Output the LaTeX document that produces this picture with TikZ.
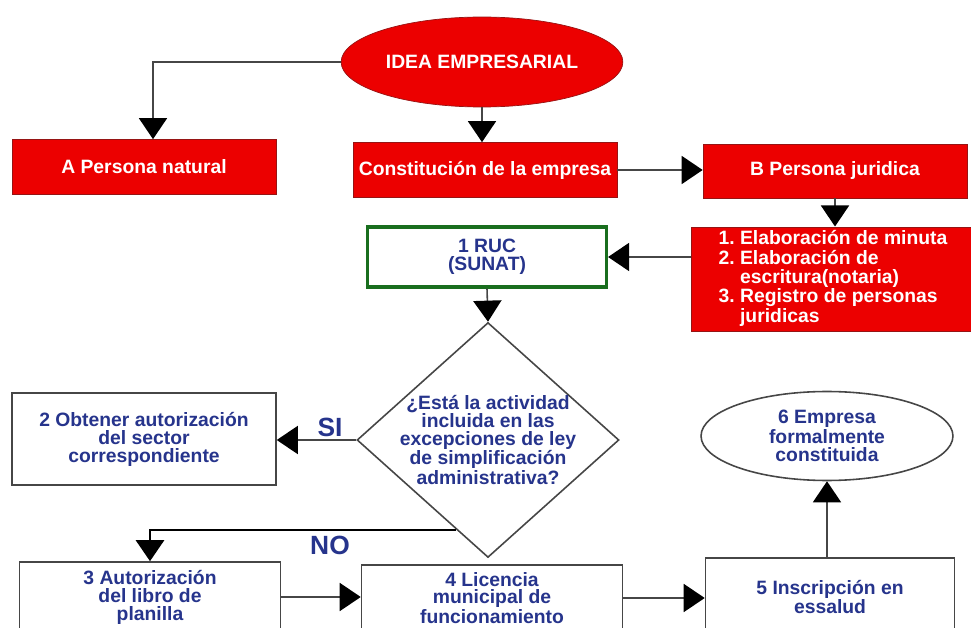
\documentclass[tikz,border=0pt]{standalone}
\usepackage{fontspec}
\setmainfont{Liberation Sans}
\usetikzlibrary{shapes.geometric,arrows.meta,calc}
\definecolor{rojo}{RGB}{236,0,0}
\definecolor{rojoborde}{RGB}{150,20,20}
\definecolor{azul}{RGB}{38,52,140}
\definecolor{verde}{RGB}{25,110,30}
\definecolor{linea}{RGB}{70,70,70}
\begin{document}
\begin{tikzpicture}[x=0.02cm, y=-0.02cm,
    font=\fontsize{11}{10.2}\selectfont\bfseries,
    rojobox/.style={draw=rojoborde, fill=rojo, text=white, align=center, inner sep=2pt},
    blancobox/.style={draw=linea, fill=white, text=azul, align=center, line width=0.9pt, inner sep=2pt},
    flecha/.style={draw=linea, line width=0.9pt, -{Triangle[width=16pt,length=12pt,color=black]}}]
    \useasboundingbox (0,0) rectangle (971,628);
    \clip (0,0) rectangle (971,628);
    % fila de arriba
    \node[rojobox, ellipse, minimum width=5.0cm, minimum height=1.8cm] (idea) at (482,62) {IDEA EMPRESARIAL};
    \node[rojobox, minimum width=5.28cm, minimum height=1.1cm] (natural) at (144,167) {A Persona natural};
    \node[rojobox, minimum width=5.28cm, minimum height=1.1cm] (constit) at (485,170) {Constitución de la empresa};
    \node[rojobox, minimum width=5.28cm, minimum height=1.08cm] (juridica) at (835,171) {B Persona juridica};
    \node[rojobox, minimum width=5.66cm, minimum height=2.04cm] (pasos) at (833,279) {%
      \begin{tabular}{@{}l@{\ }l@{}}
        1. & Elaboración de minuta\\
        2. & Elaboración de\\
           & escritura(notaria)\\
        3. & Registro de personas\\
           & juridicas
      \end{tabular}};
    \node[blancobox, draw=verde, line width=1.8pt, minimum width=4.78cm, minimum height=1.2cm] (ruc) at (487,257) {1 RUC\\(SUNAT)};
    % decision
    \node[draw=linea, line width=0.9pt, diamond, fill=white, minimum width=5.24cm, minimum height=4.7cm, inner sep=0pt] (q) at (488,440) {};
    \node[text=azul, align=center] (qtexto) at (q.center) {¿Está la actividad\\incluida en las\\excepciones de ley\\de simplificación\\administrativa?};
    \coordinate (qno) at ($(q.west)!0.76!(q.south)$);
    \node[blancobox, minimum width=5.28cm, minimum height=1.84cm] (obtener) at (144,439) {2 Obtener autorización\\del sector\\correspondiente};
    \node[text=azul, font=\fontsize{15}{15}\selectfont\bfseries] (si) at (330,427) {SI};
    \node[text=azul, font=\fontsize{15}{15}\selectfont\bfseries] (no) at (330,545) {NO};
    % fila de abajo
    \node[blancobox, minimum width=5.22cm, minimum height=1.4cm] (planilla) at (150,597) {3 Autorización\\del libro de\\planilla};
    \node[blancobox, minimum width=5.22cm, minimum height=1.32cm] (licencia) at (492,598) {4 Licencia\\municipal de\\funcionamiento};
    \node[blancobox, minimum width=4.98cm, minimum height=1.56cm] (essalud) at (830,597) {5 Inscripción en\\essalud};
    \node[blancobox, ellipse, minimum width=5.04cm, minimum height=1.78cm] (constituida) at (827,436) {6 Empresa\\formalmente\\constituida};
    % flechas
    \draw[flecha] (idea.west) -| ([xshift=0.18cm]natural.north);
    \draw[flecha] (idea.south) -- (idea.south |- constit.north);
    \draw[flecha] (constit.east) -- (constit.east -| juridica.west);
    \draw[flecha] (juridica.south) -- (juridica.south |- pasos.north);
    \draw[flecha] (pasos.west |- ruc.east) -- (ruc.east);
    \draw[flecha] (ruc.south) -- (q.north);
    \draw[flecha] (q.west) -- (q.west -| obtener.east);
    \draw[flecha, draw=black, line width=1.5pt] (qno) -| (planilla.north);
    \draw[flecha] (planilla.east) -- (planilla.east -| licencia.west);
    \draw[flecha] (licencia.east) -- (licencia.east -| essalud.west);
    \draw[flecha] (constituida.south |- essalud.north) -- (constituida.south);
\end{tikzpicture}
\end{document}
